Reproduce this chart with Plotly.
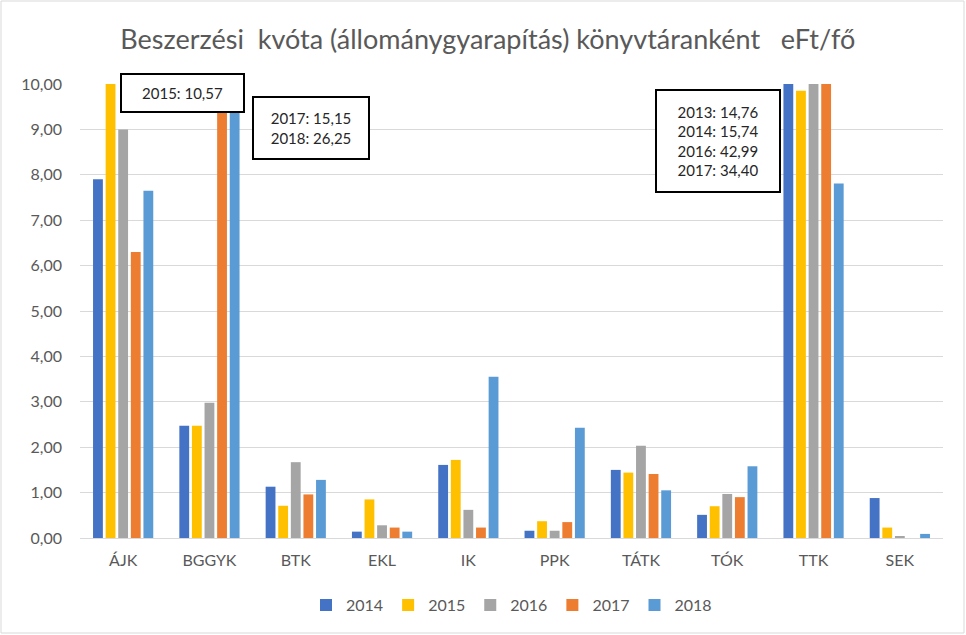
import plotly.graph_objects as go

categories = ["ÁJK", "BGGYK", "BTK", "EKL", "IK", "PPK", "TÁTK", "TÓK", "TTK", "SEK"]
years = ["2014", "2015", "2016", "2017", "2018"]
v2014 = [7.90, 2.47, 1.13, 0.14, 1.61, 0.16, 1.50, 0.51, 15.74, 0.88]
v2015 = [10.57, 2.47, 0.71, 0.85, 1.72, 0.37, 1.44, 0.70, 9.85, 0.23]
v2016 = [9.00, 2.98, 1.67, 0.28, 0.62, 0.16, 2.03, 0.97, 42.99, 0.03]
v2017 = [6.30, 15.15, 0.96, 0.23, 0.23, 0.35, 1.41, 0.90, 34.40, 0.0]
v2018 = [7.65, 26.25, 1.28, 0.14, 3.55, 2.43, 1.05, 1.58, 7.81, 0.09]
series = [v2014, v2015, v2016, v2017, v2018]
colors = ["#4472C4", "#FFC000", "#A5A5A5", "#ED7D31", "#5B9BD5"]

tick_vals = [0, 1, 2, 3, 4, 5, 6, 7, 8, 9, 10]
tick_text = ["0,00", "1,00", "2,00", "3,00", "4,00", "5,00", "6,00", "7,00", "8,00", "9,00", "10,00"]

note1 = "2015: 10,57"
note2 = "2017: 15,15<br>2018: 26,25"
note3 = "2013: 14,76<br>2014: 15,74<br>2016: 42,99<br>2017: 34,40"

FONT = "Lato, 'Open Sans', sans-serif"
GRAY = "#595959"

fig = go.Figure()
for y, vals, c in zip(years, series, colors):
    fig.add_trace(go.Bar(name=y, x=categories, y=vals, marker=dict(color=c, line=dict(width=0)),
                         cliponaxis=True))

fig.update_layout(
    width=966, height=635,
    margin=dict(l=80, r=23, t=84, b=97, autoexpand=False),
    paper_bgcolor="white", plot_bgcolor="white",
    barmode="group", bargap=0.27, bargroupgap=0.22,
    font=dict(family=FONT, color=GRAY, size=16),
    title=dict(text="Beszerzési  kvóta (állománygyarapítás) könyvtáranként   eFt/fő",
               x=0.505, xanchor="center", y=0.937, yanchor="middle",
               font=dict(size=27, color=GRAY, family=FONT)),
    showlegend=True,
    legend=dict(orientation="h", x=0.5, xanchor="center", y=-0.148, yanchor="middle",
                font=dict(size=16, color=GRAY), itemwidth=30, traceorder="normal"),
    xaxis=dict(showline=True, linecolor="#D9D9D9", linewidth=1, ticks="", automargin=False,
               tickfont=dict(size=16, color=GRAY), ticklabelstandoff=8),
    yaxis=dict(range=[0, 10], tickvals=tick_vals, ticktext=tick_text, showgrid=True,
               gridcolor="#D9D9D9", gridwidth=1, zeroline=False, showline=False,
               automargin=False, tickfont=dict(size=16, color=GRAY), ticklabelstandoff=17),
)

def ann(text, x, y, w, h):
    fig.add_annotation(text=text, xref="paper", yref="paper", x=x, y=y,
                       xanchor="center", yanchor="middle", showarrow=False,
                       align="center", width=w - 12, height=h - 12, bgcolor="white",
                       bordercolor="black", borderwidth=2, borderpad=4,
                       font=dict(size=15, color="#262626", family=FONT))

ann(note1, 0.119, 0.980, 125, 40)
ann(note2, 0.268, 0.903, 118, 64)
ann(note3, 0.739, 0.874, 126, 104)

fig.add_shape(type="rect", xref="paper", yref="paper",
              x0=(1 - 80) / 863, x1=(964 - 80) / 863,
              y0=(538 - 633) / 454, y1=(538 - 1) / 454,
              line=dict(color="#D9D9D9", width=1), fillcolor="rgba(0,0,0,0)", layer="below")

fig.write_html("out.html", config={"displayModeBar": False},
               post_script="document.body.style.margin='0px';")
